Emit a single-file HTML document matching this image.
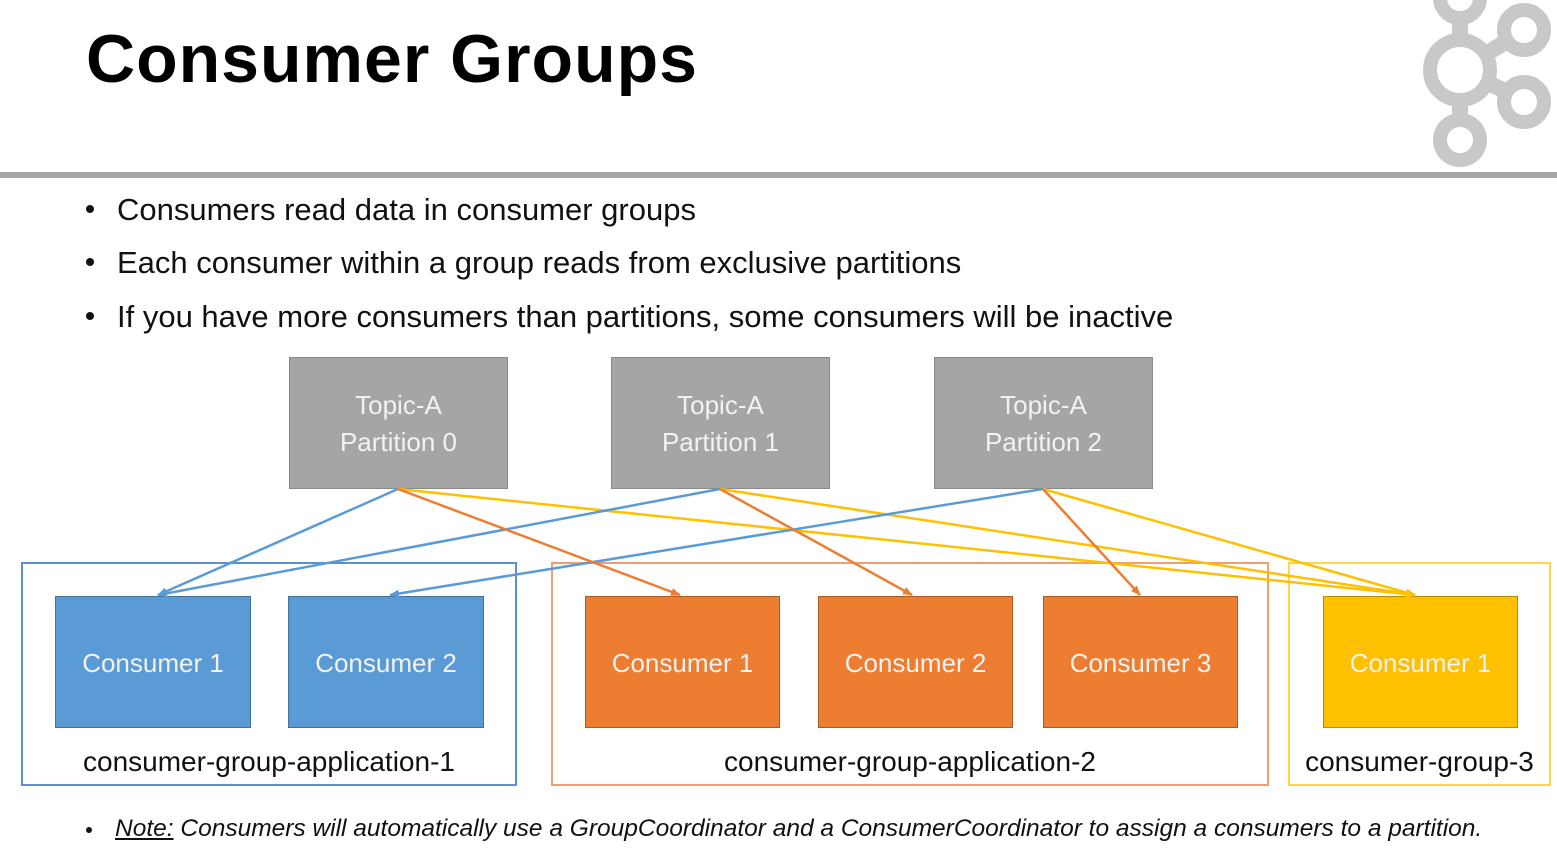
<!DOCTYPE html>
<html><head><style>
body{margin:0;width:1557px;height:850px;background:#fff;position:relative;overflow:hidden;font-family:"Liberation Sans",sans-serif}
.a{position:absolute}
.p{background:#a5a5a5;border:1px solid #8a8a8a;color:#f2f2f2;font-size:26px;text-align:center;line-height:37px;box-sizing:border-box;padding-top:29px}
.c{color:#f2f2f2;font-size:26px;text-align:center;line-height:132px;box-sizing:border-box}
.b{background:#5b9bd5;border:1px solid #41719c}
.o{background:#ed7d31;border:1px solid #ae5a21}
.y{background:#ffc000;border:1px solid #bc8c00}
.g{box-sizing:border-box;border:2px solid}
.l{font-size:28px;color:#111;text-align:center}
.bl{font-size:31px;color:#111;left:117px}
.dot{left:86px;width:8px;height:8px;border-radius:50%;background:#111}
</style></head><body>
<div class="a" style="left:86px;top:20px;font-size:68px;font-weight:bold;color:#000;letter-spacing:1px">Consumer Groups</div>
<svg class="a" style="left:1400px;top:0" width="157" height="180">
<g stroke="#c8c8c8" fill="none" stroke-width="16">
<line x1="60" y1="0" x2="60" y2="140"/><line x1="60" y1="70" x2="125" y2="30"/><line x1="60" y1="70" x2="125" y2="100"/>
</g>
<g stroke="#c8c8c8" fill="#fff" stroke-width="14">
<circle cx="60" cy="-2" r="20"/><circle cx="60" cy="70" r="30"/><circle cx="124" cy="30" r="20"/><circle cx="124" cy="102" r="20"/><circle cx="60" cy="140" r="20"/>
</g></svg>
<div class="a" style="left:0;top:172px;width:1557px;height:6px;background:#a6a6a6"></div>
<div class="a dot" style="top:205px"></div><div class="a bl" style="top:192px">Consumers read data in consumer groups</div>
<div class="a dot" style="top:258px"></div><div class="a bl" style="top:245px">Each consumer within a group reads from exclusive partitions</div>
<div class="a dot" style="top:312px"></div><div class="a bl" style="top:299px">If you have more consumers than partitions, some consumers will be inactive</div>
<div class="a p" style="left:289px;top:357px;width:219px;height:132px">Topic-A<br>Partition 0</div>
<div class="a p" style="left:611px;top:357px;width:219px;height:132px">Topic-A<br>Partition 1</div>
<div class="a p" style="left:934px;top:357px;width:219px;height:132px">Topic-A<br>Partition 2</div>
<div class="a g" style="left:21px;top:562px;width:496px;height:224px;border-color:#5b8fd0"></div>
<div class="a g" style="left:551px;top:562px;width:718px;height:224px;border-color:#f0a070"></div>
<div class="a g" style="left:1288px;top:562px;width:263px;height:224px;border-color:#ffd54a"></div>
<div class="a c b" style="left:55px;top:596px;width:196px;height:132px">Consumer 1</div>
<div class="a c b" style="left:288px;top:596px;width:196px;height:132px">Consumer 2</div>
<div class="a c o" style="left:585px;top:596px;width:195px;height:132px">Consumer 1</div>
<div class="a c o" style="left:818px;top:596px;width:195px;height:132px">Consumer 2</div>
<div class="a c o" style="left:1043px;top:596px;width:195px;height:132px">Consumer 3</div>
<div class="a c y" style="left:1323px;top:596px;width:195px;height:132px">Consumer 1</div>
<div class="a l" style="left:21px;top:746px;width:496px">consumer-group-application-1</div>
<div class="a l" style="left:551px;top:746px;width:718px">consumer-group-application-2</div>
<div class="a l" style="left:1288px;top:746px;width:263px">consumer-group-3</div>
<svg class="a" style="left:0;top:0" width="1557" height="850">
<defs>
<marker id="mb" markerUnits="userSpaceOnUse" markerWidth="10" markerHeight="10" refX="9" refY="5" orient="auto"><path d="M0,1L10,5L0,9z" fill="#5b9bd5"/></marker>
<marker id="mo" markerUnits="userSpaceOnUse" markerWidth="10" markerHeight="10" refX="9" refY="5" orient="auto"><path d="M0,1L10,5L0,9z" fill="#ed7d31"/></marker>
<marker id="my" markerUnits="userSpaceOnUse" markerWidth="10" markerHeight="10" refX="9" refY="5" orient="auto"><path d="M0,1L10,5L0,9z" fill="#ffc000"/></marker>
</defs>
<g stroke-width="2.5" fill="none">
<line x1="398" y1="489" x2="1415" y2="595" stroke="#ffc000" marker-end="url(#my)"/>
<line x1="720" y1="489" x2="1415" y2="595" stroke="#ffc000" marker-end="url(#my)"/>
<line x1="1043" y1="489" x2="1415" y2="595" stroke="#ffc000" marker-end="url(#my)"/>
<line x1="398" y1="489" x2="158" y2="595" stroke="#5b9bd5" marker-end="url(#mb)"/>
<line x1="720" y1="489" x2="158" y2="595" stroke="#5b9bd5" marker-end="url(#mb)"/>
<line x1="1043" y1="489" x2="390" y2="595" stroke="#5b9bd5" marker-end="url(#mb)"/>
<line x1="398" y1="489" x2="680" y2="595" stroke="#ed7d31" marker-end="url(#mo)"/>
<line x1="720" y1="489" x2="912" y2="595" stroke="#ed7d31" marker-end="url(#mo)"/>
<line x1="1043" y1="489" x2="1140" y2="595" stroke="#ed7d31" marker-end="url(#mo)"/>
</g></svg>
<div class="a dot" style="top:827px;width:6px;height:6px"></div>
<div class="a" style="left:115px;top:815px;font-size:24.5px;font-style:italic;color:#111"><u>Note:</u> Consumers will automatically use a GroupCoordinator and a ConsumerCoordinator to assign a consumers to a partition.</div>
</body></html>
